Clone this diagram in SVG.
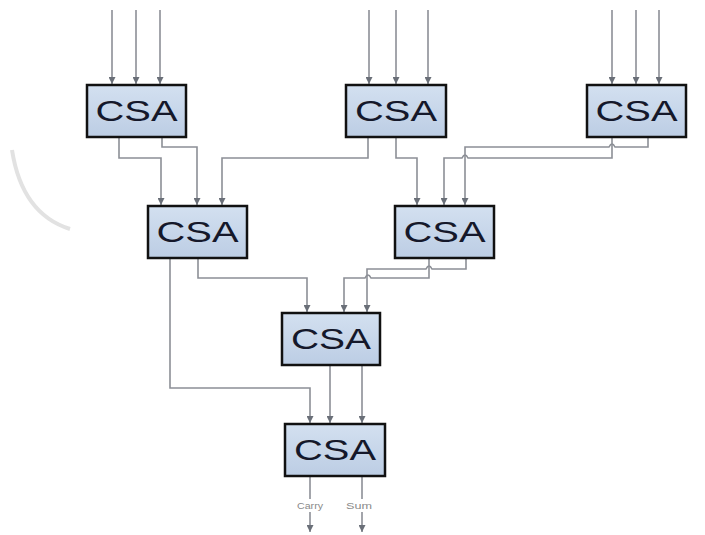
<svg xmlns="http://www.w3.org/2000/svg" width="705" height="535" viewBox="0 0 705 535">
  <defs>
    <linearGradient id="boxfill" x1="0" y1="0" x2="0" y2="1">
      <stop offset="0" stop-color="#d3e0f0"/>
      <stop offset="1" stop-color="#bccde4"/>
    </linearGradient>
    <marker id="arr" markerUnits="userSpaceOnUse" markerWidth="8" markerHeight="7" refX="7" refY="3.5" orient="auto">
      <path d="M0,0 L7,3.5 L0,7 z" fill="#6a6f78"/>
    </marker>
  </defs>
  <style>
    .box { fill: url(#boxfill); stroke: #111; stroke-width: 2.5; }
    .lbl { font-family: "Liberation Sans", Arial, sans-serif; font-size: 30px; fill: #15182a; text-anchor: middle; }
    .wire { fill: none; stroke: #8c8f96; stroke-width: 1.6; }
    .small { font-family: "Liberation Sans", Arial, sans-serif; font-size: 9px; fill: #8a8a8a; text-anchor: middle; }
  </style>
  <rect width="705" height="535" fill="#ffffff"/>
  <path d="M12,150 Q22,214 70,229" fill="none" stroke="#e2e2e2" stroke-width="4"/>

  <g id="connectors">
    <!-- top inputs -->
    <path class="wire" marker-end="url(#arr)" d="M112,10 V84"/>
    <path class="wire" marker-end="url(#arr)" d="M136,10 V84"/>
    <path class="wire" marker-end="url(#arr)" d="M160,10 V84"/>
    <path class="wire" marker-end="url(#arr)" d="M369,10 V84"/>
    <path class="wire" marker-end="url(#arr)" d="M396,10 V84"/>
    <path class="wire" marker-end="url(#arr)" d="M428,10 V84"/>
    <path class="wire" marker-end="url(#arr)" d="M612,10 V84"/>
    <path class="wire" marker-end="url(#arr)" d="M636,10 V84"/>
    <path class="wire" marker-end="url(#arr)" d="M659,10 V84"/>
    <!-- level 1 to level 2 -->
    <path class="wire" marker-end="url(#arr)" d="M119,137 V158 H161 V205"/>
    <path class="wire" marker-end="url(#arr)" d="M162,137 V147 H197 V205"/>
    <path class="wire" marker-end="url(#arr)" d="M368,137 V158 H222 V205"/>
    <path class="wire" marker-end="url(#arr)" d="M396,137 V158 H417 V205"/>
    <path class="wire" marker-end="url(#arr)" d="M648,137 V147 H615 q-3,-6 -6,0 H465 V205"/>
    <path class="wire" marker-end="url(#arr)" d="M612,137 V158 H468 q-3,-6 -6,0 H444 V205"/>
    <!-- level 2 to level 3 -->
    <path class="wire" marker-end="url(#arr)" d="M198,258 V278 H307 V312"/>
    <path class="wire" marker-end="url(#arr)" d="M429,258 V278 H371 q-3,-6 -6,0 H344 V312"/>
    <path class="wire" marker-end="url(#arr)" d="M466,258 V269 H432 q-3,-6 -6,0 H367 V312"/>
    <!-- to bottom -->
    <path class="wire" marker-end="url(#arr)" d="M170,258 V388 H310 V423"/>
    <path class="wire" marker-end="url(#arr)" d="M330,365 V423"/>
    <path class="wire" marker-end="url(#arr)" d="M362,365 V423"/>
    <!-- outputs -->
    <path class="wire" d="M310,476 V499"/>
    <path class="wire" marker-end="url(#arr)" d="M310,512 V532"/>
    <path class="wire" d="M362,476 V499"/>
    <path class="wire" marker-end="url(#arr)" d="M362,512 V532"/>
  </g>

  <text class="small" x="310" y="509" textLength="26" lengthAdjust="spacingAndGlyphs">Carry</text>
  <text class="small" x="359" y="509" textLength="26" lengthAdjust="spacingAndGlyphs">Sum</text>

  <g id="csa1"><rect class="box" x="87" y="85" width="99" height="52"/><text class="lbl" x="136.5" y="121" textLength="82" lengthAdjust="spacingAndGlyphs">CSA</text></g>
  <g id="csa2"><rect class="box" x="346" y="85" width="100" height="52"/><text class="lbl" x="396" y="121" textLength="82" lengthAdjust="spacingAndGlyphs">CSA</text></g>
  <g id="csa3"><rect class="box" x="587" y="85" width="99" height="52"/><text class="lbl" x="636.5" y="121" textLength="82" lengthAdjust="spacingAndGlyphs">CSA</text></g>
  <g id="csa4"><rect class="box" x="148" y="206" width="99" height="52"/><text class="lbl" x="197.5" y="242" textLength="82" lengthAdjust="spacingAndGlyphs">CSA</text></g>
  <g id="csa5"><rect class="box" x="395" y="206" width="99" height="52"/><text class="lbl" x="444.5" y="242" textLength="82" lengthAdjust="spacingAndGlyphs">CSA</text></g>
  <g id="csa6"><rect class="box" x="282" y="313" width="98" height="52"/><text class="lbl" x="331" y="349" textLength="80" lengthAdjust="spacingAndGlyphs">CSA</text></g>
  <g id="csa7"><rect class="box" x="285" y="424" width="100" height="52"/><text class="lbl" x="335" y="460" textLength="82" lengthAdjust="spacingAndGlyphs">CSA</text></g>
</svg>
